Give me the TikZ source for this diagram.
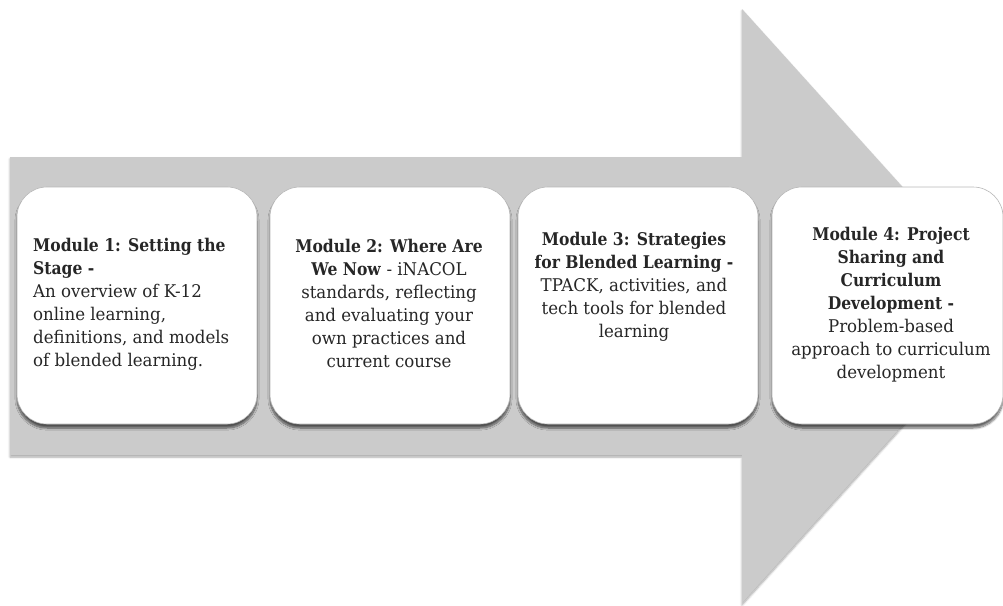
\documentclass[tikz,border=0pt]{standalone}
\usepackage{fontspec}
\setmainfont{DejaVu Serif}[FakeStretch=0.95, BoldFeatures={FakeStretch=0.89}]
\usetikzlibrary{shadows.blur}
\definecolor{arrowgray}{HTML}{CBCBCB}
\definecolor{edgegray}{HTML}{B8B8B8}
\tikzset{
  flow/.style={fill=arrowgray, draw=none,
    blur shadow={shadow xshift=0pt, shadow yshift=-2pt, shadow blur steps=6, shadow opacity=35}},
  modbox/.style={draw=edgegray, line width=0.6pt, fill=white, rounded corners=30pt,
    blur shadow={shadow xshift=0pt, shadow yshift=-4pt, shadow blur steps=8, shadow opacity=60}},
  modtext/.style={anchor=north, inner sep=0pt, font=\fontsize{17.5}{23}\selectfont, text=black!85}
}
\begin{document}
\begin{tikzpicture}[x=1pt, y=-1pt]
\useasboundingbox (0,0) rectangle (1003,605);
\clip (0,0) rectangle (1003,605);
% big process arrow
\path[flow] (10,157) -- (742,157) -- (742,9) -- (1010,306) -- (742,603) -- (742,455) -- (10,455) -- cycle;
% module boxes
\path[modbox] (17,187) rectangle (257,424) coordinate (b1);
\path[modbox] (270,187) rectangle (510,424) coordinate (b2);
\path[modbox] (518,187) rectangle (758,424) coordinate (b3);
\path[modbox] (772,187) rectangle (1003,424) coordinate (b4);
% module texts
\node[modtext, anchor=north west, align=left] (t1) at (33,238)
  {\textbf{Module 1: Setting the}\\\textbf{Stage -}\\An overview of K-12\\online learning,\\definitions, and models\\of blended learning.};
\node[modtext, align=center] (t2) at (389,239)
  {\textbf{Module 2: Where Are}\\\textbf{We Now} - iNACOL\\standards, reflecting\\and evaluating your\\own practices and\\current course};
\node[modtext, align=center] (t3) at (634,232)
  {\textbf{Module 3: Strategies}\\\textbf{for Blended Learning -}\\TPACK, activities, and\\tech tools for blended\\learning};
\node[modtext, align=center] (t4) at (891,227)
  {\textbf{Module 4: Project}\\\textbf{Sharing and}\\\textbf{Curriculum}\\\textbf{Development -}\\Problem-based\\approach to curriculum\\development};
\end{tikzpicture}
\end{document}
